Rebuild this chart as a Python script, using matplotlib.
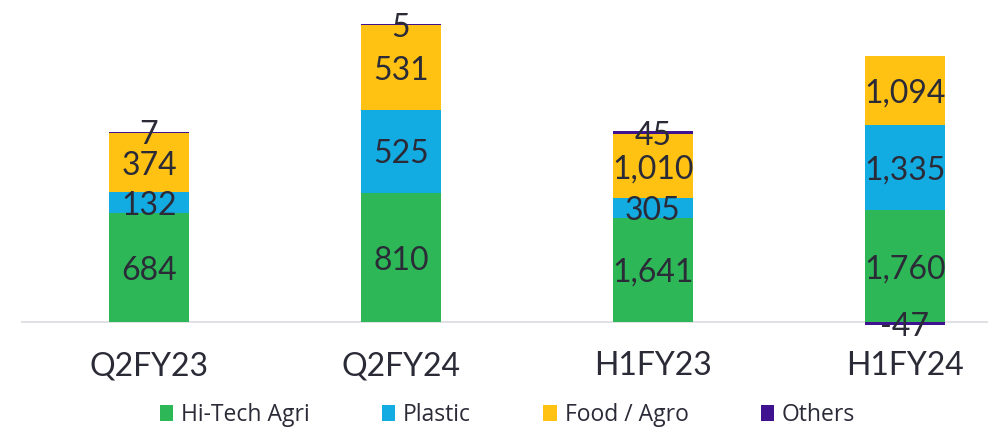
import numpy as np
import matplotlib
matplotlib.use("Agg")
import matplotlib.pyplot as plt
from matplotlib.patches import Patch

categories = ["Q2FY23", "Q2FY24", "H1FY23", "H1FY24"]
hitech = [684, 810, 1641, 1760]
plastic = [132, 525, 305, 1335]
food = [374, 531, 1010, 1094]
others = [7, 5, 45, -47]

series = [("Hi-Tech Agri", hitech, "#2db757"),
          ("Plastic", plastic, "#13ace2"),
          ("Food / Agro", food, "#ffc112"),
          ("Others", others, "#3f1390")]

txt_col = "#2b2b38"
plt.rcParams["font.family"] = ["Lato", "DejaVu Sans"]

fig = plt.figure(figsize=(9.88, 4.29), dpi=100)
ax = fig.add_axes([21 / 988, 89 / 429, 967 / 988, 340 / 429])
ax2 = ax.twinx()

# quarter bars on the left scale, half-year bars on the right scale
scale = 2.5
ax.set_ylim(-113, 2025)
ax2.set_ylim(-113 * scale, 2025 * scale)
x = np.arange(len(categories))
w = 0.32

for i in range(len(categories)):
    a = ax if i < 2 else ax2
    pos_base = 0
    for name, vals, col in series:
        v = vals[i]
        if v >= 0:
            bottom = pos_base
            pos_base += v
        else:
            bottom = 0
        a.bar(x[i], v, w, bottom=bottom, color=col, linewidth=0)
        a.text(x[i], bottom + v / 2, f"{v:,}", ha="center", va="center_baseline",
               fontsize=23, color=txt_col)

for a in (ax, ax2):
    for s in a.spines.values():
        s.set_visible(False)
    a.set_xlim(-0.508, 3.33)

ax.axhline(0, color="#d9d9de", lw=1.1, zorder=0)
ax.set_yticks([])
ax2.set_yticks([])
ax.set_xticks(x)
ax.set_xticklabels(categories, fontsize=23, color=txt_col)
ax.tick_params(axis="x", length=0, pad=8)

handles = [Patch(facecolor=c, label=n) for n, _, c in series]
fig.legend(handles=handles, loc="center", bbox_to_anchor=(507.5 / 988, 1 - 415 / 429),
           ncol=4, frameon=False, handlelength=0.58, handleheight=0.72,
           handletextpad=0.35, columnspacing=3.15,
           prop={"family": ["Open Sans", "DejaVu Sans"], "size": 16.5}, labelcolor=txt_col)

fig.savefig("out.png", dpi=100)
